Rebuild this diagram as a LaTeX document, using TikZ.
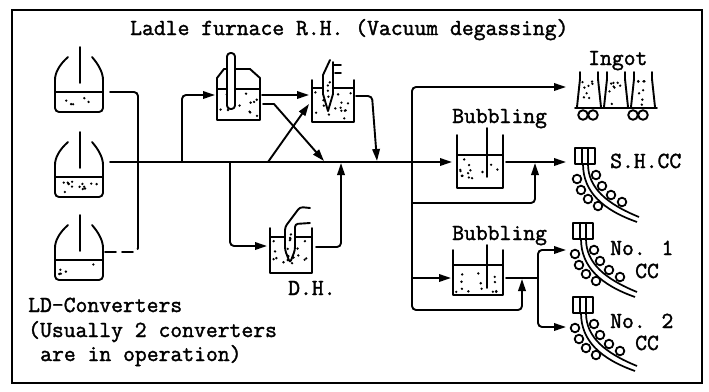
\documentclass[tikz,border=0pt]{standalone}
\usepackage{fontspec}
\newfontfamily\tw{Latin Modern Mono}[BoldFont={Latin Modern Mono},BoldFeatures={FakeBold=1.6}]
\usetikzlibrary{arrows.meta}
\tikzset{
  ln/.style={line width=1.9pt, line cap=round, line join=round},
  conn/.style={ln, -{Triangle[length=12pt,width=7.5pt]}},
  lbl/.style={font=\tw\bfseries\fontsize{23}{26}\selectfont, inner sep=0pt, anchor=base west},
}
\newcommand\speckle[5]{\foreach \k in {1,...,#5}{\fill ({#1+rnd*#3},{#2+rnd*#4}) circle[radius=1.3pt];}}
\newcommand\converter[2]{%
  \begin{scope}[shift={(0,#1)}]
    \draw[ln, rounded corners=4] (68,-35) .. controls (59,-27) and (55,-19) .. (55,-8) -- (55,20) -- (103,20) -- (103,-8) .. controls (103,-19) and (99,-27) .. (92,-35);
    \draw[ln] (55,0) -- (103,0);
    \draw[ln] (80,-45) -- (80,-9);
    \speckle{59}{4}{40}{12}{#2}
  \end{scope}}
\newcommand\caster[2]{%
  \begin{scope}[shift={(#1,#2)}]
    \draw[ln] (0,0) rectangle (20,16);
    \draw[ln] (7,0) -- (7,16);
    \draw[ln] (13,0) -- (13,16);
    \draw[line width=1.7pt] (8,16) .. controls (8,44) and (28,62) .. (62,74);
    \draw[line width=1.7pt] (13,16) .. controls (13,40) and (32,56) .. (64,69);
    \foreach \p in {(2,31),(6,42),(13,51),(23,58),(21,27),(27,38),(36,47),(47,54)}
      \draw[line width=1.8pt, fill=white] \p circle[radius=4.3pt];
  \end{scope}}
\newcommand\mold[1]{%
  \draw[ln] (#1-9,72) -- (#1-9,79) -- (#1-12,107);
  \draw[ln] (#1+9,72) -- (#1+9,79) -- (#1+12,107);
  \speckle{#1-7}{81}{14}{24}{8}}
\begin{document}
\begin{tikzpicture}[x=1pt,y=-1pt]
\pgfmathsetseed{11}
\useasboundingbox (0,0) rectangle (709,391);
\fill[white] (0,0) rectangle (709,391);
\draw[line width=1.8pt] (12,10) rectangle (702,383);

% labels
\node[lbl] (title) at (130,35) {Ladle furnace R.H. (Vacuum degassing)};
\node[lbl] (ingotlbl) at (588,65) {Ingot};
\node[lbl] (bub1lbl) at (452,123) {Bubbling};
\node[lbl] (bub2lbl) at (452,240) {Bubbling};
\node[lbl] (shcclbl) at (610,168) {S.H.CC};
\node[lbl] (no1lbl) at (610,255) {No. 1};
\node[lbl] (cc1lbl) at (635,278) {CC};
\node[lbl] (no2lbl) at (610,328) {No. 2};
\node[lbl] (cc2lbl) at (635,350) {CC};
\node[lbl] (dhlbl) at (288,295) {D.H.};
\node[lbl] (ldlbl) at (28,312) {LD-Converters};
\node[lbl] (uslbl) at (28,337) {(Usually 2 converters};
\node[lbl] (oplbl) at (40,361) {are in operation)};

% converters
\converter{92}{5}
\converter{177}{14}
\converter{260}{5}

% ladle furnace
\draw[ln] (217,120) -- (260,120) -- (260,78) -- (250,69) -- (224,69) -- (217,78) -- cycle;
\draw[ln] (217,89) -- (260,89);
\speckle{220}{93}{38}{24}{15}
\draw[ln, fill=white, rounded corners=3.5] (227,53) rectangle (235,109);

% R.H. vessel
\draw[ln] (312,80) -- (312,122) -- (354,122) -- (354,80);
\draw[ln] (312,88) -- (323,88);
\draw[ln] (333,88) -- (354,88);
\speckle{315}{92}{36}{27}{15}
\speckle{325}{80}{6}{18}{4}
\draw[ln] (330,60) -- (323,75) -- (323,94) -- (328,111) -- (333,94) -- (333,62);
\draw[ln] (333,65) -- (341,65);
\draw[ln] (335,73) -- (341,73);

% D.H. vessel
\draw[ln] (270,228) -- (270,273) -- (312,273) -- (312,228);
\draw[ln] (270,237) -- (285,237);
\draw[ln] (295,237) -- (312,237);
\speckle{273}{241}{36}{29}{15}
\speckle{287}{230}{6}{20}{4}
\draw[ln, rounded corners=3] (310,208) -- (300,207) -- (285,227) -- (285,250) -- (290,263) -- (295,250) -- (295,224) -- (310,223);

% bubbling vessels
\draw[ln] (457,135) -- (457,188) -- (503,188) -- (503,135);
\draw[ln] (457,155) -- (503,155);
\draw[ln] (487,128) -- (487,177);
\speckle{460}{159}{40}{26}{13}
\draw[ln] (453,250) -- (453,295) -- (503,295) -- (503,250);
\draw[ln] (453,265) -- (503,265);
\draw[ln] (487,245) -- (487,288);
\speckle{456}{269}{44}{23}{13}

% ingot moulds
\mold{589}
\mold{616}
\mold{643}
\draw[ln] (575,108) -- (657,108);
\foreach \w in {583,593,633,643}
  \draw[ln, fill=white] (\w,115) circle[radius=4.8pt];

% casters
\caster{575}{148}
\caster{573}{223}
\caster{573}{297}

% named ports
\coordinate (c1o) at (110,92);
\coordinate (c2o) at (110,162);
\coordinate (c3o) at (105,252);
\coordinate (vbend) at (138,240);
\coordinate (b1in) at (452,162);
\coordinate (lfbr) at (182,162);
\coordinate (lfin) at (215,95);
\coordinate (lfo) at (262,95);
\coordinate (rhin) at (309,95);
\coordinate (lfo2) at (263,104);
\coordinate (lfo2b) at (274,104);
\coordinate (mainA) at (324,161);
\coordinate (mainB) at (268,162);
\coordinate (rhin2) at (309,104);
\coordinate (rho) at (356,96);
\coordinate (rhob) at (372,96);
\coordinate (mainC) at (377,161);
\coordinate (dhbr) at (230,162);
\coordinate (dhin) at (267,246);
\coordinate (dho) at (316,247);
\coordinate (mainD) at (341,163);
\coordinate (jn) at (412,162);
\coordinate (ingin) at (566,87);
\coordinate (jlow) at (412,310);
\coordinate (byp) at (522,310);
\coordinate (b2oup) at (522,279);
\coordinate (j2) at (412,278);
\coordinate (b2in) at (451,278);
\coordinate (j3) at (412,203);
\coordinate (b1oup) at (535,163);
\coordinate (b1o) at (506,162);
\coordinate (shin) at (566,162);
\coordinate (b2o) at (506,278);
\coordinate (spl) at (538,278);
\coordinate (no1in) at (566,250);
\coordinate (no2in) at (566,327);

% connectors
\draw[ln, rounded corners=4, dash pattern=on 11pt off 6pt] (c3o) -| (vbend);
\draw[ln, rounded corners=4] (vbend) |- (c1o);
\draw[conn] (c2o) -- (b1in);
\draw[conn, rounded corners=4] (lfbr) |- (lfin);
\draw[conn] (lfo) -- (rhin);
\draw[conn] (lfo2) -- (lfo2b) -- (mainA);
\draw[conn] (mainB) -- (rhin2);
\draw[conn, rounded corners=4] (rho) -- (rhob) -- (mainC);
\draw[conn, rounded corners=4] (dhbr) |- (dhin);
\draw[conn, rounded corners=4] (dho) -| (mainD);
\draw[conn, rounded corners=4] (jn) |- (ingin);
\draw[conn, rounded corners=4] (jn) -- (jlow) -- (byp) -- (b2oup);
\draw[conn] (j2) -- (b2in);
\draw[conn, rounded corners=4] (j3) -| (b1oup);
\draw[conn] (b1o) -- (shin);
\draw[ln] (b2o) -- (spl);
\draw[conn, rounded corners=4] (spl) |- (no1in);
\draw[conn, rounded corners=4] (spl) |- (no2in);
\end{tikzpicture}
\end{document}
